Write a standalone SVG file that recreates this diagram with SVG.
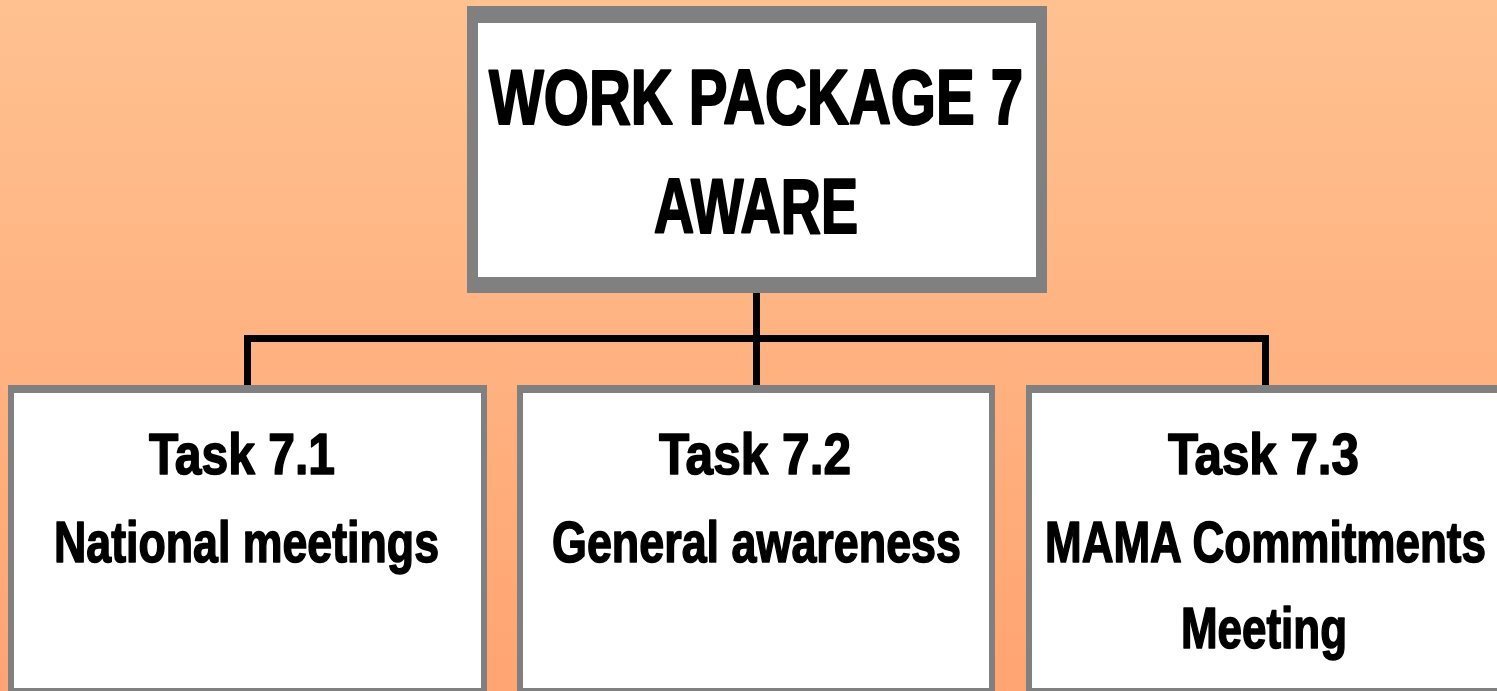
<svg xmlns="http://www.w3.org/2000/svg" width="1497" height="691" viewBox="0 0 1497 691">
<defs>
<linearGradient id="bg" x1="0" y1="0" x2="0" y2="1">
<stop offset="0" stop-color="#FFC190"/>
<stop offset="1" stop-color="#FFA472"/>
</linearGradient>
<style>
.frame{fill:#808080}
.inner{fill:#FFFFFF}
.t{font-family:"Liberation Sans Narrow","Liberation Sans",Arial,sans-serif;font-weight:bold;font-stretch:condensed;fill:#000;stroke:#000;stroke-linejoin:round;text-anchor:start}
.big{font-size:78px;stroke-width:2.2px}
.mid{font-size:58px;stroke-width:1.6px}
.conn{stroke:#000;stroke-width:7;fill:none;stroke-linecap:butt}
</style>
</defs>
<rect x="0" y="0" width="1497" height="691" fill="url(#bg)"/>
<g id="connectors">
<path class="conn" d="M756.5 293 V338.5"/>
<path class="conn" d="M244 338.5 H1269"/>
<path class="conn" d="M247.5 335 V385"/>
<path class="conn" d="M756.5 335 V385"/>
<path class="conn" d="M1265.5 335 V385"/>
</g>
<g id="wp7">
<rect class="frame" x="467" y="6" width="580" height="287"/>
<rect class="inner" x="478" y="23" width="558" height="254"/>
<text class="t big" x="489" y="124" textLength="534" lengthAdjust="spacingAndGlyphs">WORK PACKAGE 7</text>
<text class="t big" x="654" y="233" textLength="204" lengthAdjust="spacingAndGlyphs">AWARE</text>
</g>
<g id="task71">
<rect class="frame" x="8" y="385" width="479" height="310"/>
<rect class="inner" x="14" y="393" width="467" height="295"/>
<text class="t mid" x="149" y="474" textLength="186" lengthAdjust="spacingAndGlyphs">Task 7.1</text>
<text class="t mid" x="54" y="562" textLength="385" lengthAdjust="spacingAndGlyphs">National meetings</text>
</g>
<g id="task72">
<rect class="frame" x="517" y="385" width="478" height="310"/>
<rect class="inner" x="523" y="393" width="466" height="295"/>
<text class="t mid" x="659" y="474" textLength="192" lengthAdjust="spacingAndGlyphs">Task 7.2</text>
<text class="t mid" x="552" y="562" textLength="409" lengthAdjust="spacingAndGlyphs">General awareness</text>
</g>
<g id="task73">
<rect class="frame" x="1026" y="385" width="479" height="310"/>
<rect class="inner" x="1032" y="393" width="467" height="295"/>
<text class="t mid" x="1168" y="474" textLength="191" lengthAdjust="spacingAndGlyphs">Task 7.3</text>
<text class="t mid" x="1045" y="562" textLength="441" lengthAdjust="spacingAndGlyphs">MAMA Commitments</text>
<text class="t mid" x="1181" y="648" textLength="166" lengthAdjust="spacingAndGlyphs">Meeting</text>
</g>
</svg>
